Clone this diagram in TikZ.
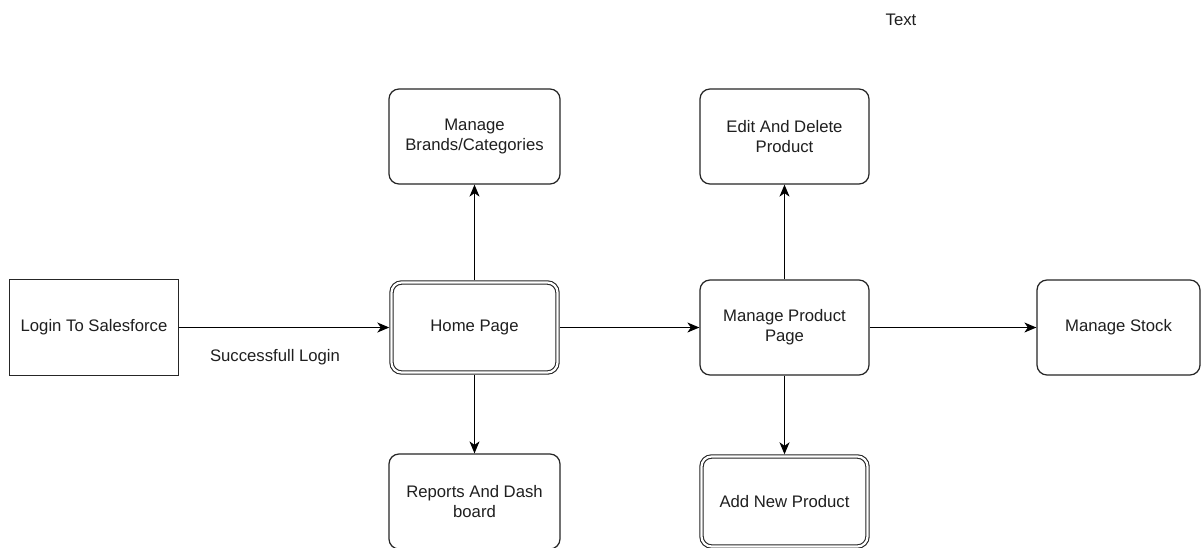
\documentclass[tikz,border=0pt]{standalone}
\usepackage{fontspec}
\setmainfont{Liberation Sans}
\usetikzlibrary{arrows.meta}
\tikzset{
  box/.style={draw=black!85, line width=1.25pt, rounded corners=10pt, fill=white,
    align=center, inner sep=0pt, font=\fontsize{16.7}{20}\selectfont, text=black!88},
  plainbox/.style={box, rounded corners=0pt, line width=1.2pt},
  dblbox/.style={box, double, double distance=2.2pt, line width=1.1pt, outer sep=2.2pt},
  conn/.style={draw=black, line width=1.3pt, -{Stealth[length=12pt,width=10pt,inset=3.5pt]}},
  lbl/.style={font=\fontsize{16.7}{20}\selectfont, text=black!88, inner sep=0pt}
}
\begin{document}
\begin{tikzpicture}[x=1pt,y=-1pt]
\clip (0,0) rectangle (1202,547);
\fill[white] (0,0) rectangle (1202,547);
\node[plainbox, minimum width=169pt, minimum height=96pt] (login) at (94,327.5) {Login To Salesforce};
\node[dblbox, minimum width=166pt, minimum height=90pt] (home) at (474.5,327.5) {Home Page};
\node[box, minimum width=171pt, minimum height=95pt] (brands) at (474.5,136.5) {Manage\\Brands/Categories};
\node[box, minimum width=171pt, minimum height=95pt] (reports) at (474.5,501.5) {Reports And Dash\\board};
\node[box, minimum width=169pt, minimum height=95pt] (product) at (784.5,327.5) {Manage Product\\Page};
\node[box, minimum width=169pt, minimum height=95pt] (edit) at (784.5,136.5) {Edit And Delete\\Product};
\node[dblbox, minimum width=166pt, minimum height=90pt] (add) at (784.5,501.5) {Add New Product};
\node[box, minimum width=163pt, minimum height=95pt] (stock) at (1118.5,327.5) {Manage Stock};
\node[lbl] (succ) at (275,357) {Successfull Login};
\node[lbl] (txt) at (901,20) {Text};
\draw[conn] (login.east) -- (home.west);
\draw[conn] (home.north) -- (brands.south);
\draw[conn] (home.south) -- (reports.north);
\draw[conn] (home.east) -- (product.west);
\draw[conn] (product.north) -- (edit.south);
\draw[conn] (product.south) -- (add.north);
\draw[conn] (product.east) -- (stock.west);
\end{tikzpicture}
\end{document}
